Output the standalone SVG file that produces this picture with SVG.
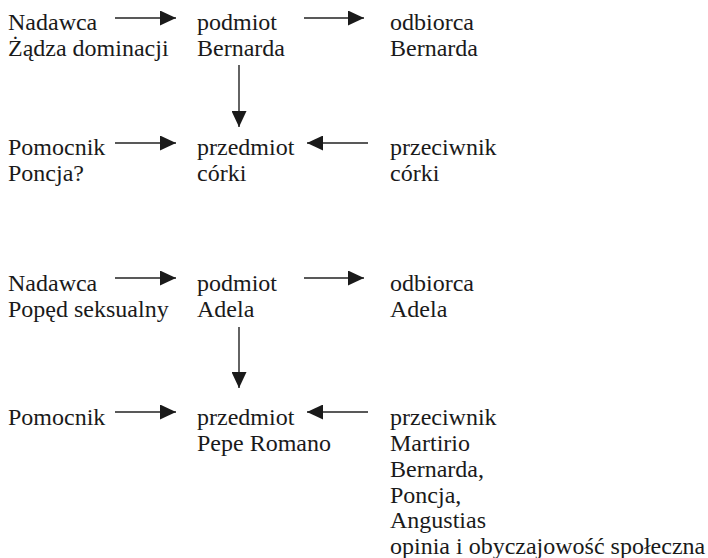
<svg xmlns="http://www.w3.org/2000/svg" width="708" height="558" viewBox="0 0 708 558">
<style>
text{font-family:"Liberation Serif","Times New Roman",serif;font-size:24px;fill:#1a1a1a}
.c line{stroke:#222;stroke-width:1.4}
</style>
<defs>
<marker id="ah" markerUnits="userSpaceOnUse" markerWidth="16" markerHeight="15" refX="16" refY="7.5" orient="auto">
<path d="M0,0 L16,7.5 L0,15 Z" fill="#1a1a1a"/>
</marker>
</defs>
<rect width="708" height="558" fill="#fff"/>
<g id="nadawca1"><text x="8" y="30">Nadawca</text><text x="8" y="56">Żądza dominacji</text></g>
<g id="podmiot1"><text x="197" y="30">podmiot</text><text x="197" y="56">Bernarda</text></g>
<g id="odbiorca1"><text x="390" y="30">odbiorca</text><text x="390" y="56">Bernarda</text></g>
<g id="pomocnik1"><text x="8" y="155">Pomocnik</text><text x="8" y="181">Poncja?</text></g>
<g id="przedmiot1"><text x="197" y="155">przedmiot</text><text x="197" y="181">córki</text></g>
<g id="przeciwnik1"><text x="390" y="155">przeciwnik</text><text x="390" y="181">córki</text></g>
<g id="nadawca2"><text x="8" y="291">Nadawca</text><text x="8" y="317">Popęd seksualny</text></g>
<g id="podmiot2"><text x="197" y="291">podmiot</text><text x="197" y="317">Adela</text></g>
<g id="odbiorca2"><text x="390" y="291">odbiorca</text><text x="390" y="317">Adela</text></g>
<g id="pomocnik2"><text x="8" y="425">Pomocnik</text></g>
<g id="przedmiot2"><text x="197" y="425">przedmiot</text><text x="197" y="451">Pepe Romano</text></g>
<g id="przeciwnik2"><text x="390" y="425">przeciwnik</text><text x="390" y="451">Martirio</text><text x="390" y="477">Bernarda,</text><text x="390" y="502.5">Poncja,</text><text x="390" y="528">Angustias</text><text x="390" y="553.5">opinia i obyczajowość społeczna</text></g>
<g class="c" id="connectors">
<line x1="115" y1="18" x2="176" y2="18" marker-end="url(#ah)"/>
<line x1="304" y1="18" x2="364" y2="18" marker-end="url(#ah)"/>
<line x1="239" y1="65" x2="239" y2="127" marker-end="url(#ah)"/>
<line x1="115" y1="143" x2="176" y2="143" marker-end="url(#ah)"/>
<line x1="368" y1="143" x2="307" y2="143" marker-end="url(#ah)"/>
<line x1="115" y1="278" x2="176" y2="278" marker-end="url(#ah)"/>
<line x1="304" y1="278" x2="364" y2="278" marker-end="url(#ah)"/>
<line x1="239" y1="327" x2="239" y2="388" marker-end="url(#ah)"/>
<line x1="115" y1="412" x2="176" y2="412" marker-end="url(#ah)"/>
<line x1="368" y1="412" x2="307" y2="412" marker-end="url(#ah)"/>
</g>
</svg>
